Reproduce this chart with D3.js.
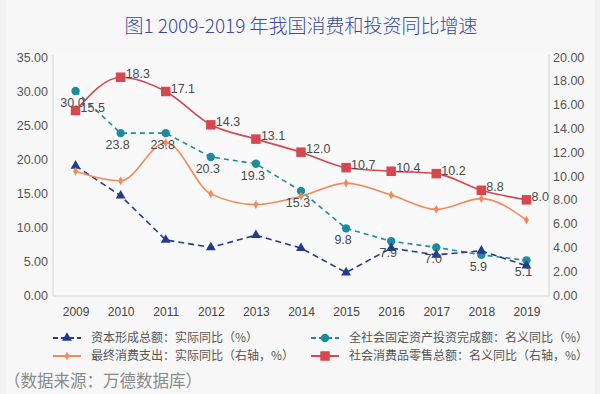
<!DOCTYPE html>
<html>
<head>
<meta charset="utf-8">
<script src="https://cdnjs.cloudflare.com/ajax/libs/d3/7.8.5/d3.min.js"></script>
<style>
  body { margin: 0; background: #f2f2f2; }
  svg { display: block; font-family: "Noto Sans CJK SC", "Noto Sans", sans-serif; }
</style>
</head>
<body>
<div class="chart"></div>
<script>
// data
var years = ["2009", "2010", "2011", "2012", "2013", "2014", "2015", "2016", "2017", "2018", "2019"];
var capitalFormation = [19.0, 14.6, 8.1, 7.0, 8.8, 6.9, 3.3, 6.9, 5.9, 6.5, 4.3];   // left axis
var fixedInvestment = [30.0, 23.8, 23.8, 20.3, 19.3, 15.3, 9.8, 7.9, 7.0, 5.9, 5.1]; // left axis
var finalConsumption = [10.4, 9.6, 12.8, 8.5, 7.6, 8.3, 9.4, 8.4, 7.2, 8.1, 6.3];   // right axis
var retailSales = [15.5, 18.3, 17.1, 14.3, 13.1, 12.0, 10.7, 10.4, 10.2, 8.8, 8.0]; // right axis
var leftTicks = [0, 5, 10, 15, 20, 25, 30, 35];
var rightTicks = [0, 2, 4, 6, 8, 10, 12, 14, 16, 18, 20];
var legendNames = [
  "资本形成总额：实际同比（%）",
  "全社会固定资产投资完成额：名义同比（%）",
  "最终消费支出：实际同比（右轴，%）",
  "社会消费品零售总额：名义同比（右轴，%）"
];

var svgWidth = 600;
var svgHeight = 394;
var plot = { left: 53, right: 549, top: 57, bottom: 295 };

var svg = d3.select(".chart")
  .append("svg")
  .attr("width", svgWidth)
  .attr("height", svgHeight);

// background panel
svg.append("rect")
  .attr("x", 6).attr("y", 0)
  .attr("width", 589).attr("height", 394)
  .attr("fill", "#f7f7f7");

// title
svg.append("text")
  .attr("x", 301).attr("y", 33)
  .attr("text-anchor", "middle")
  .style("font-size", "19px")
  .style("font-weight", 300)
  .style("fill", "#3b4a98")
  .text("图1\u00a02009-2019 年我国消费和投资同比增速");

// scales
var x = d3.scalePoint()
  .domain(years)
  .range([plot.left, plot.right])
  .padding(0.5);
var yLeft = d3.scaleLinear().domain([0, 35]).range([plot.bottom, plot.top]);
var yRight = d3.scaleLinear().domain([0, 20]).range([plot.bottom, plot.top]);

// plot frame
svg.append("rect")
  .attr("x", plot.left).attr("y", plot.top - 2)
  .attr("width", plot.right - plot.left)
  .attr("height", plot.bottom - plot.top + 3)
  .attr("fill", "#f9f9f9")
  .attr("stroke", "none");
svg.append("path")
  .attr("d", `M${plot.left},${plot.top - 2}V${plot.bottom + 1}H${plot.right}V${plot.top - 2}`)
  .attr("fill", "none")
  .attr("stroke", "#d4d4d4")
  .attr("stroke-width", 1);

// axes
var leftAxis = d3.axisLeft(yLeft).tickValues(leftTicks).tickFormat(d3.format(".2f")).tickSize(0).tickPadding(5);
var rightAxis = d3.axisRight(yRight).tickValues(rightTicks).tickFormat(d3.format(".2f")).tickSize(0).tickPadding(4);
var bottomAxis = d3.axisBottom(x).tickSize(0).tickPadding(12);

var gl = svg.append("g").attr("transform", `translate(${plot.left},0)`).call(leftAxis);
var gr = svg.append("g").attr("transform", `translate(${plot.right},0)`).call(rightAxis);
var gb = svg.append("g").attr("transform", `translate(0,${plot.bottom})`).call(bottomAxis);
[gl, gr, gb].forEach(function (g) {
  g.select(".domain").remove();
  g.selectAll("text")
    .style("font-family", "Arial, 'Liberation Sans', sans-serif")
    .style("font-size", "12.5px")
    .style("fill", "#555");
});
gb.selectAll("text").style("font-size", "12px").style("fill", "#444");

// series definitions
var series = [
  { values: fixedInvestment, scale: yLeft, color: "#1c8c9e", dash: "5,4", curve: d3.curveLinear, marker: "circle", label: "below" },
  { values: capitalFormation, scale: yLeft, color: "#233b8c", dash: "6,4", curve: d3.curveLinear, marker: "triangle", label: null },
  { values: finalConsumption, scale: yRight, color: "#f5895a", dash: null, curve: d3.curveMonotoneX, marker: "diamond", label: null },
  { values: retailSales, scale: yRight, color: "#d6474f", dash: null, curve: d3.curveMonotoneX, marker: "square", label: "right" }
];

var symbols = {
  circle: d3.symbol().type(d3.symbolCircle).size(55),
  triangle: d3.symbol().type(d3.symbolTriangle).size(42),
  diamond: d3.symbol().type(d3.symbolDiamond).size(22),
  square: d3.symbol().type(d3.symbolSquare).size(90)
};

series.forEach(function (s) {
  var line = d3.line()
    .x(function (d, i) { return x(years[i]); })
    .y(function (d) { return s.scale(d); })
    .curve(s.curve);

  svg.append("path")
    .datum(s.values)
    .attr("d", line)
    .attr("fill", "none")
    .attr("stroke", s.color)
    .attr("stroke-width", 1.6)
    .attr("stroke-dasharray", s.dash);

  svg.selectAll(null)
    .data(s.values)
    .enter()
    .append("path")
    .attr("d", symbols[s.marker])
    .attr("transform", function (d, i) { return `translate(${x(years[i])},${s.scale(d)})`; })
    .attr("fill", s.color);
});

// value labels
series.forEach(function (s) {
  if (!s.label) return;
  svg.selectAll(null)
    .data(s.values)
    .enter()
    .append("text")
    .attr("x", function (d, i) { return s.label === "right" ? x(years[i]) + 5 : x(years[i]) - 3; })
    .attr("y", function (d) { return s.label === "right" ? s.scale(d) + 1 : s.scale(d) + 16; })
    .attr("text-anchor", s.label === "right" ? "start" : "middle")
    .style("font-family", "Arial, 'Liberation Sans', sans-serif")
    .style("font-size", "12.5px")
    .style("fill", "#4a4a4a")
    .text(function (d) { return d.toFixed(1); });
});

// legend
var legendOrder = [1, 0, 2, 3];
var legendPos = [[53, 338], [311, 338], [53, 356], [311, 356]];
legendNames.forEach(function (name, k) {
  var s = series[legendOrder[k]];
  var p = legendPos[k];
  var g = svg.append("g").attr("transform", `translate(${p[0]},${p[1]})`);
  g.append("line")
    .attr("x1", 0).attr("x2", 28)
    .attr("stroke", s.color)
    .attr("stroke-width", 2)
    .attr("stroke-dasharray", s.dash ? "5,3" : null);
  g.append("path")
    .attr("d", symbols[s.marker])
    .attr("transform", "translate(14,0)")
    .attr("fill", s.color);
  g.append("text")
    .attr("x", 38).attr("y", 4)
    .style("font-size", "12px")
    .style("fill", "#555")
    .text(name);
});

// source note
svg.append("text")
  .attr("x", 4).attr("y", 387)
  .style("font-size", "16.5px")
  .style("fill", "#8a8a8a")
  .text("（数据来源：万德数据库）");
</script>
</body>
</html>
